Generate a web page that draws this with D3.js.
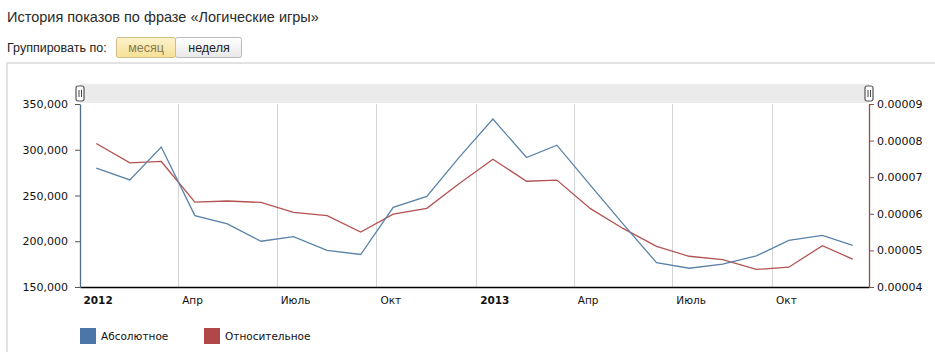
<!DOCTYPE html>
<html>
<head>
<meta charset="utf-8">
<script src="https://cdn.jsdelivr.net/npm/d3@7"></script>
<style>
  html, body { margin: 0; padding: 0; background: #fff; }
  svg { display: block; }
</style>
</head>
<body>
<svg id="chart" width="935" height="360"></svg>
<script>
// ---- data ----
const months = [
  "2012-01-16","2012-02-16","2012-03-16","2012-04-16","2012-05-16","2012-06-16",
  "2012-07-16","2012-08-16","2012-09-16","2012-10-16","2012-11-16","2012-12-16",
  "2013-01-16","2013-02-16","2013-03-16","2013-04-16","2013-05-16","2013-06-16",
  "2013-07-16","2013-08-16","2013-09-16","2013-10-16","2013-11-16","2013-12-14"
];
const absoluteValues = [
  280000, 267000, 303000, 228000, 219000, 200000,
  205000, 190000, 185500, 237000, 249000, 292000,
  333500, 291500, 305000, 261000, 219000, 176500,
  170500, 175000, 184000, 201000, 206500, 195500
];
const relativeValues = [
  0.0000792, 0.0000739, 0.0000743, 0.0000632, 0.0000635, 0.0000631,
  0.0000604, 0.0000595, 0.0000550, 0.0000599, 0.0000615, 0.0000683,
  0.0000749, 0.0000689, 0.0000692, 0.0000614, 0.0000560, 0.0000511,
  0.0000484, 0.0000475, 0.0000448, 0.0000454, 0.0000513, 0.0000476
];
const leftTicks = [150000, 200000, 250000, 300000, 350000];
const rightTicks = [0.00004, 0.00005, 0.00006, 0.00007, 0.00008, 0.00009];
const xTickDates = ["2012-01-01","2012-04-01","2012-07-01","2012-10-01","2013-01-01","2013-04-01","2013-07-01","2013-10-01"];
const xTickLabels = ["2012","Апр","Июль","Окт","2013","Апр","Июль","Окт"];
const xTickBold = [true,false,false,false,true,false,false,false];
const seriesNames = ["Абсолютное","Относительное"];
const titleText = "История показов по фразе «Логические игры»";

// ---- layout ----
const parse = d3.utcParse("%Y-%m-%d");
const svg = d3.select("#chart");
const L = 80, R = 869, T = 104, B = 287;
const blue = "#4a76a8", red = "#b04848";
const blueLine = "#5a82a8", redLine = "#b45252";

const x = d3.scaleUtc().domain([parse("2012-01-01"), parse("2013-12-29")]).range([L, R]);
const yL = d3.scaleLinear().domain([150000, 350000]).range([B, T]);
const yR = d3.scaleLinear().domain([0.00004, 0.00009]).range([B, T]);

const defs = svg.append("defs");
const g1 = defs.append("linearGradient").attr("id","gy").attr("x1",0).attr("y1",0).attr("x2",0).attr("y2",1);
g1.append("stop").attr("offset","0").attr("stop-color","#fdf3cc");
g1.append("stop").attr("offset","1").attr("stop-color","#f6e096");
const g2 = defs.append("linearGradient").attr("id","gw").attr("x1",0).attr("y1",0).attr("x2",0).attr("y2",1);
g2.append("stop").attr("offset","0").attr("stop-color","#ffffff");
g2.append("stop").attr("offset","1").attr("stop-color","#e8e8e8");

// title
svg.append("text").attr("x", 7).attr("y", 22)
  .attr("font-family", "Liberation Sans, Arial, sans-serif").attr("font-size", 14.5)
  .attr("fill", "#2a2a2a").text(titleText);

svg.append("text").attr("x", 7).attr("y", 52)
  .attr("font-family", "Liberation Sans, Arial, sans-serif").attr("font-size", 12.5)
  .attr("fill", "#222").text("Группировать по:");

// buttons
svg.append("rect").attr("x", 116.5).attr("y", 37.5).attr("width", 59).attr("height", 20).attr("rx", 2)
  .attr("fill", "url(#gy)").attr("stroke", "#cdbd84");
svg.append("text").attr("x", 146).attr("y", 52).attr("text-anchor","middle")
  .attr("font-family", "Liberation Sans, Arial, sans-serif").attr("font-size", 12.5)
  .attr("fill", "#8a7a50").text("месяц");
svg.append("rect").attr("x", 175.5).attr("y", 37.5).attr("width", 66).attr("height", 20).attr("rx", 2)
  .attr("fill", "url(#gw)").attr("stroke", "#bbbbbb");
svg.append("text").attr("x", 209).attr("y", 52).attr("text-anchor","middle")
  .attr("font-family", "Liberation Sans, Arial, sans-serif").attr("font-size", 12.5)
  .attr("fill", "#222").text("неделя");

// frame (top and left borders)
svg.append("path").attr("d", "M7,352 V63 H935")
  .attr("fill", "none").attr("stroke", "#e2e2e2").attr("stroke-width", 2);

// top navigator band
svg.append("rect").attr("x", L).attr("y", 84).attr("width", R - L).attr("height", 19).attr("fill", "#ebebeb");

// grid lines
svg.append("g").selectAll("line").data(xTickDates).join("line")
  .attr("x1", d => x(parse(d))).attr("x2", d => x(parse(d)))
  .attr("y1", T).attr("y2", B).attr("stroke", "#d4d4d4").attr("stroke-width", 1)
  .attr("shape-rendering", "crispEdges");

// x axis
const xAxis = d3.axisBottom(x)
  .tickValues(xTickDates.map(parse))
  .tickSize(0)
  .tickFormat((d, i) => xTickLabels[i]);
const gx = svg.append("g").attr("transform", `translate(0,${B})`).call(xAxis);
gx.select(".domain").attr("stroke", "#000").attr("stroke-width", 1.3);
gx.selectAll(".tick text")
  .attr("text-anchor", "start").attr("x", 3).attr("y", 17).attr("dy", 0)
  .attr("font-family", "DejaVu Sans, Verdana, sans-serif").attr("font-size", 10.5)
  .attr("fill", "#111")
  .attr("font-weight", (d, i) => xTickBold[i] ? "bold" : "normal");

// left axis
const yAxisL = d3.axisLeft(yL).tickValues(leftTicks).tickFormat(d3.format(",")).tickSize(5).tickSizeOuter(0);
const gl = svg.append("g").attr("transform", `translate(${L},0)`).call(yAxisL);
gl.select(".domain").attr("stroke", "#4f6f88").attr("stroke-width", 1.3);
gl.selectAll(".tick line").attr("stroke", "#555");
gl.selectAll(".tick text").attr("x", -12)
  .attr("font-family", "DejaVu Sans, Verdana, sans-serif").attr("font-size", 11).attr("fill", "#111");

// right axis
const yAxisR = d3.axisRight(yR).tickValues(rightTicks).tickFormat(d3.format(".5f")).tickSize(5).tickSizeOuter(0);
const gr = svg.append("g").attr("transform", `translate(${R},0)`).call(yAxisR);
gr.select(".domain").attr("stroke", "#8a4f4f").attr("stroke-width", 1.3);
gr.selectAll(".tick line").attr("stroke", "#8a4f4f");
gr.selectAll(".tick text").attr("x", 8)
  .attr("font-family", "DejaVu Sans, Verdana, sans-serif").attr("font-size", 11).attr("fill", "#111");

// lines
const dates = months.map(parse);
const lineL = d3.line().x((d, i) => x(dates[i])).y(d => yL(d));
const lineR = d3.line().x((d, i) => x(dates[i])).y(d => yR(d));
svg.append("path").datum(relativeValues).attr("d", lineR)
  .attr("fill", "none").attr("stroke", redLine).attr("stroke-width", 1.3);
svg.append("path").datum(absoluteValues).attr("d", lineL)
  .attr("fill", "none").attr("stroke", blueLine).attr("stroke-width", 1.3);

// navigator handles
[L, R].forEach(hx => {
  const h = svg.append("g").attr("transform", `translate(${hx},94)`);
  h.append("rect").attr("x", -4).attr("y", -8).attr("width", 8).attr("height", 15).attr("rx", 2)
    .attr("fill", "#fff").attr("stroke", "#555").attr("stroke-width", 1.2);
  h.append("line").attr("x1", -1).attr("x2", -1).attr("y1", -4).attr("y2", 3).attr("stroke", "#444");
  h.append("line").attr("x1", 1.5).attr("x2", 1.5).attr("y1", -4).attr("y2", 3).attr("stroke", "#444");
});

// legend
const legendX = [80, 204];
const legendColors = [blue, red];
seriesNames.forEach((name, i) => {
  svg.append("rect").attr("x", legendX[i]).attr("y", 328).attr("width", 16).attr("height", 16).attr("fill", legendColors[i]);
  svg.append("text").attr("x", legendX[i] + 21).attr("y", 340)
    .attr("font-family", "DejaVu Sans, Verdana, sans-serif").attr("font-size", 10.5)
    .attr("fill", "#111").text(name);
});
</script>
</body>
</html>
